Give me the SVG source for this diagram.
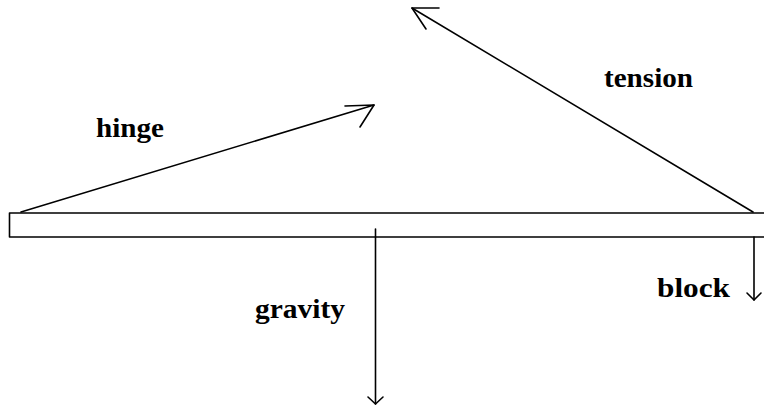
<svg xmlns="http://www.w3.org/2000/svg" width="764" height="406" viewBox="0 0 764 406">
<style>
.ln{stroke:#000;stroke-width:1.6;fill:none;stroke-linecap:round;stroke-linejoin:round}
.lbl{font-family:"Liberation Serif","Times New Roman",serif;font-weight:bold;font-size:28px;fill:#000}
</style>
<rect width="764" height="406" fill="#fff"/>
<g id="beam">
<rect x="9.5" y="213" width="770" height="24" class="ln"/>
</g>
<g id="connectors">
<g id="hinge-arrow">
<line x1="21" y1="212" x2="374" y2="105" class="ln"/>
<polyline points="345,106 374,105 360,127" class="ln"/>
</g>
<g id="tension-arrow">
<line x1="753" y1="212" x2="412" y2="8" class="ln"/>
<polyline points="439,8 412,8 426,29" class="ln"/>
</g>
<g id="gravity-arrow">
<line x1="375.5" y1="229" x2="375.5" y2="404" class="ln"/>
<polyline points="368,397 375.5,404 383,397" class="ln"/>
</g>
<g id="block-arrow">
<line x1="754" y1="237" x2="754" y2="300" class="ln"/>
<polyline points="747,293 754,300 761,293" class="ln"/>
</g>
</g>
<g id="labels">
<text id="hinge" class="lbl" x="96" y="137" textLength="68" lengthAdjust="spacingAndGlyphs">hinge</text>
<text id="tension" class="lbl" x="604" y="87" textLength="89" lengthAdjust="spacingAndGlyphs">tension</text>
<text id="gravity" class="lbl" x="255" y="318" textLength="90" lengthAdjust="spacingAndGlyphs">gravity</text>
<text id="block" class="lbl" x="657" y="297" textLength="73" lengthAdjust="spacingAndGlyphs">block</text>
</g>
</svg>
